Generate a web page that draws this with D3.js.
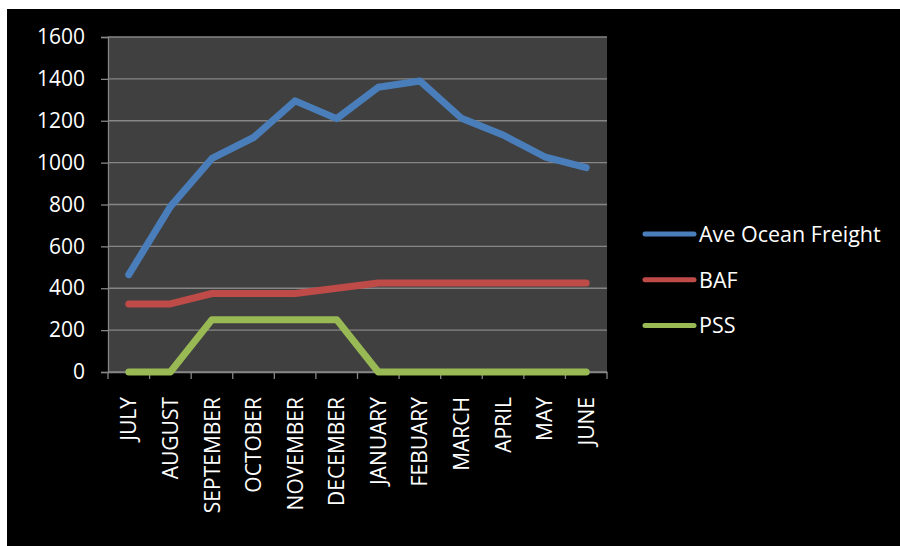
<!DOCTYPE html>
<html>
<head>
<meta charset="utf-8">
<script src="https://cdn.jsdelivr.net/npm/d3@7"></script>
<style>
  body { margin: 0; background: #fff; }
  svg { display: block; }
</style>
</head>
<body>
<div id="main-div"></div>
<script>
// data
var months = ["JULY", "AUGUST", "SEPTEMBER", "OCTOBER", "NOVEMBER", "DECEMBER",
  "JANUARY", "FEBUARY", "MARCH", "APRIL", "MAY", "JUNE"];
var aveOceanFreight = [465, 790, 1020, 1120, 1295, 1210, 1360, 1390, 1212, 1132, 1028, 976];
var baf = [325, 325, 375, 375, 375, 400, 425, 425, 425, 425, 425, 425];
var pss = [0, 0, 250, 250, 250, 250, 0, 0, 0, 0, 0, 0];
var seriesNames = ["Ave Ocean Freight", "BAF", "PSS"];
var yTicks = [0, 200, 400, 600, 800, 1000, 1200, 1400, 1600];

var colors = ["#4a7ebb", "#be4b48", "#98b954"];
var font = "'Open Sans', sans-serif";

var svg = d3.select("#main-div")
  .append("svg")
  .attr("width", 900)
  .attr("height", 546);

// black chart area
svg.append("rect")
  .attr("x", 7).attr("y", 9)
  .attr("width", 893).attr("height", 537)
  .attr("fill", "#000");

var margin = { top: 37, left: 108 },
  width = 499,
  height = 335;

var g = svg.append("g")
  .attr("transform", "translate(" + margin.left + "," + margin.top + ")");

// plot background
g.append("rect")
  .attr("width", width).attr("height", height)
  .attr("fill", "#404040");

var x = d3.scaleBand().domain(months).range([0, width]);
var y = d3.scaleLinear().domain([0, 1600]).range([height, 0]);

// gridlines
g.selectAll(".grid")
  .data(yTicks)
  .enter()
  .append("line")
  .attr("x1", 0).attr("x2", width)
  .attr("y1", function (d) { return y(d); })
  .attr("y2", function (d) { return y(d); })
  .attr("stroke", "#868686")
  .attr("stroke-width", 1.3);

// y axis
var yAxis = g.append("g")
  .call(d3.axisLeft(y).tickValues(yTicks).tickFormat(d3.format("d"))
    .tickSize(7).tickPadding(16));
yAxis.select(".domain").attr("stroke", "#868686").attr("stroke-width", 1.3);
yAxis.selectAll(".tick line").attr("stroke", "#868686").attr("stroke-width", 1.3);
yAxis.selectAll(".tick text")
  .attr("fill", "#fff")
  .style("font-family", font)
  .style("font-size", "21px");

// x axis, ticks at category boundaries
var xAxis = g.append("g")
  .attr("transform", "translate(0," + height + ")")
  .call(d3.axisBottom(x).tickSize(0).tickPadding(0));
xAxis.select(".domain").attr("stroke", "#868686").attr("stroke-width", 1.3);
xAxis.selectAll(".tick text")
  .attr("fill", "#fff")
  .attr("transform", "rotate(-90)")
  .attr("x", -25)
  .attr("y", 0)
  .attr("dy", "0.36em")
  .attr("text-anchor", "end")
  .style("font-family", font)
  .style("font-size", "21px");

var boundaries = months.map(function (m) { return x(m); }).concat([width]);
xAxis.selectAll(".bound")
  .data(boundaries)
  .enter()
  .append("line")
  .attr("x1", function (d) { return d; })
  .attr("x2", function (d) { return d; })
  .attr("y1", 0).attr("y2", 7)
  .attr("stroke", "#868686")
  .attr("stroke-width", 1.3);

// lines
var allSeries = [aveOceanFreight, baf, pss];
var line = d3.line()
  .x(function (d, i) { return x(months[i]) + x.bandwidth() / 2; })
  .y(function (d) { return y(d); });

g.selectAll(".series")
  .data(allSeries)
  .enter()
  .append("path")
  .attr("d", line)
  .attr("fill", "none")
  .attr("stroke", function (d, i) { return colors[i]; })
  .attr("stroke-width", 7)
  .attr("stroke-linecap", "round")
  .attr("stroke-linejoin", "round");

// legend
var legend = svg.append("g")
  .attr("transform", "translate(645,234)");

var items = legend.selectAll(".item")
  .data(seriesNames)
  .enter()
  .append("g")
  .attr("transform", function (d, i) { return "translate(0," + i * 45.8 + ")"; });

items.append("line")
  .attr("x1", 0).attr("x2", 49)
  .attr("stroke", function (d, i) { return colors[i]; })
  .attr("stroke-width", 5)
  .attr("stroke-linecap", "round");

items.append("text")
  .attr("x", 54)
  .attr("dy", "0.36em")
  .attr("fill", "#fff")
  .style("font-family", font)
  .style("font-size", "21.5px")
  .text(function (d) { return d; });
</script>
</body>
</html>
